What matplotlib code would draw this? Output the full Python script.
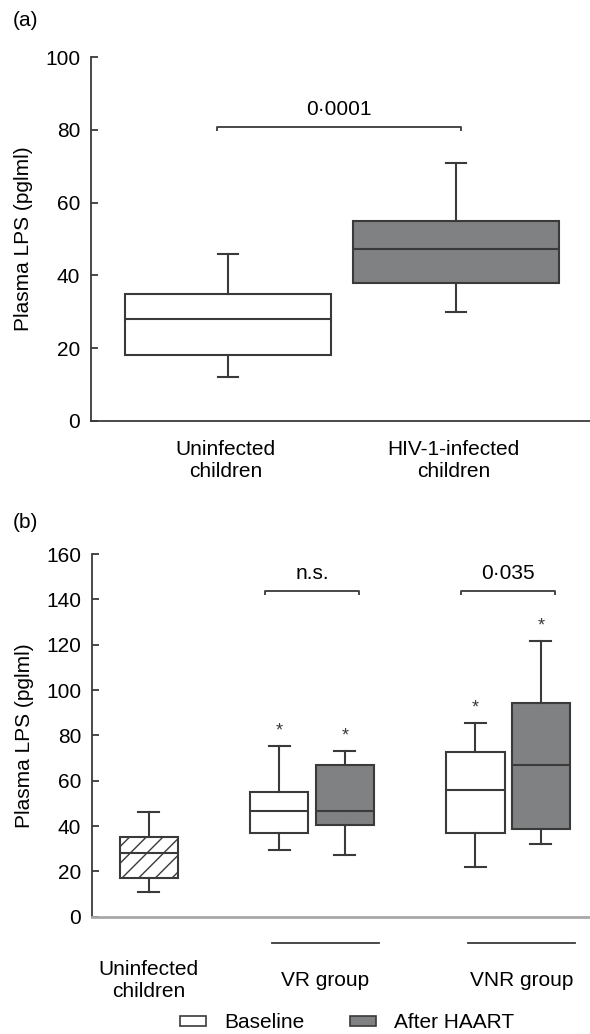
import matplotlib
matplotlib.use('Agg')
import matplotlib.pyplot as plt
from matplotlib.patches import Patch

plt.rcParams['font.family'] = ['Liberation Sans', 'DejaVu Sans']
plt.rcParams['font.size'] = 15
plt.rcParams['hatch.linewidth'] = 1.0
plt.rcParams['hatch.color'] = '#3a3a3a'

EDGE = '#3a3a3a'
GREY = '#7f8183'

# Panel (a): uninfected vs HIV-1-infected children
a_groups = ['Uninfected\nchildren', 'HIV-1-infected\nchildren']
a_whislo = [12, 30]
a_q1 = [18, 38]
a_med = [28, 47.3]
a_q3 = [35, 55]
a_whishi = [46, 71]
a_pvalue = '0·0001'

# Panel (b): uninfected, then VR / VNR groups at baseline and after HAART
b_whislo = [11, 29.4, 27.3, 21.8, 32.1]
b_q1 = [17, 37.1, 40.3, 37.1, 38.8]
b_med = [28, 46.5, 46.5, 56.0, 67.0]
b_q3 = [35, 54.9, 67.0, 72.5, 94.4]
b_whishi = [46, 75.2, 73.0, 85.4, 121.7]
b_starred = [False, True, True, True, True]
b_groups = ['Uninfected\nchildren', 'VR group', 'VNR group']
b_pvalues = ['n.s.', '0·035']
legend_labels = ['Baseline', 'After HAART']


def make_stats(lo, q1, med, q3, hi):
    return [dict(whislo=a, q1=b, med=c, q3=d, whishi=e, fliers=[])
            for a, b, c, d, e in zip(lo, q1, med, q3, hi)]


def draw_boxes(ax, stats, positions, width, capwidth):
    line = dict(color=EDGE, linewidth=1.5)
    return ax.bxp(stats, positions=positions, widths=width,
                  capwidths=capwidth, patch_artist=True, showfliers=False,
                  boxprops=dict(edgecolor=EDGE, linewidth=1.5),
                  medianprops=line, whiskerprops=line, capprops=line)


def bracket(ax, x0, x1, y, drop, text, gap):
    ax.plot([x0, x0, x1, x1], [y - drop, y, y, y - drop],
            color=EDGE, lw=1.3, solid_capstyle='butt')
    ax.text((x0 + x1) / 2, y + gap, text, ha='center', va='baseline')


def style_axis(ax, ymax, step, bottom_color, bottom_lw):
    for side in ('top', 'right'):
        ax.spines[side].set_visible(False)
    ax.spines['left'].set_color(EDGE)
    ax.spines['left'].set_linewidth(1.3)
    ax.spines['bottom'].set_color(bottom_color)
    ax.spines['bottom'].set_linewidth(bottom_lw)
    ax.set_ylim(0, ymax)
    ax.set_yticks(range(0, ymax + 1, step))
    ax.tick_params(axis='y', direction='in', length=5, width=1.3,
                   color=EDGE, pad=7.5)
    ax.set_xticks([])
    ax.set_ylabel('Plasma LPS (pglml)')
    ax.yaxis.set_label_coords(-0.115, 0.5)


fig = plt.figure(figsize=(5.9, 10.34), dpi=100)

# ---- (a) ----
ax_a = fig.add_axes([0.1534, 0.5931, 0.8466, 0.3515])
pos_a = [1, 2]
bp = draw_boxes(ax_a, make_stats(a_whislo, a_q1, a_med, a_q3, a_whishi),
                pos_a, 0.9, 0.088)
for patch, fc in zip(bp['boxes'], ['white', GREY]):
    patch.set_facecolor(fc)
ax_a.set_xlim(0.397, 2.588)
style_axis(ax_a, 100, 20, EDGE, 1.3)
bracket(ax_a, pos_a[0] - 0.05, pos_a[1] + 0.02, 80.8, 1.0, a_pvalue, 3.3)
for x, label in zip(pos_a, a_groups):
    ax_a.text(x - 0.01, -0.11, label, transform=ax_a.get_xaxis_transform(),
              ha='center', va='center', linespacing=1.2)

# ---- (b) ----
ax_b = fig.add_axes([0.1554, 0.1134, 0.8446, 0.3508])
pos_b = [0, 2, 3, 5, 6]
bp = draw_boxes(ax_b, make_stats(b_whislo, b_q1, b_med, b_q3, b_whishi),
                pos_b, 0.89, 0.32)
fills = ['white', 'white', GREY, 'white', GREY]
for patch, fc in zip(bp['boxes'], fills):
    patch.set_facecolor(fc)
bp['boxes'][0].set_hatch('//')
ax_b.set_xlim(-0.873, 6.753)
style_axis(ax_b, 160, 20, '#a8a8a8', 2.0)

for x, hi, star in zip(pos_b, b_whishi, b_starred):
    if star:
        ax_b.annotate('*', (x, hi), xytext=(0, 11), textcoords='offset points',
                      ha='center', va='center', fontsize=13, color=EDGE)

pairs = [(pos_b[1], pos_b[2]), (pos_b[3], pos_b[4])]
for (x0, x1), ptxt in zip(pairs, b_pvalues):
    bracket(ax_b, x0 - 0.22, x1 + 0.22, 143.8, 1.8, ptxt, 5.0)

xt = ax_b.get_xaxis_transform()
ax_b.text(pos_b[0], -0.1745, b_groups[0], transform=xt, ha='center',
          va='center', linespacing=1.2)
for (x0, x1), label in zip(pairs, b_groups[1:]):
    xc = (x0 + x1) / 2 + 0.2
    ax_b.plot([xc - 0.82, xc + 0.82], [-0.072, -0.072], transform=xt,
              color=EDGE, lw=1.3, clip_on=False)
    ax_b.text(xc, -0.1745, label, transform=xt, ha='center', va='center')

handles = [Patch(facecolor='white', edgecolor=EDGE, linewidth=1.2),
           Patch(facecolor=GREY, edgecolor=EDGE, linewidth=1.2)]
fig.legend(handles, legend_labels, loc='center', bbox_to_anchor=(0.588, 0.011),
           ncol=2, frameon=False, handlelength=1.25, handleheight=0.35,
           handletextpad=0.85, columnspacing=2.2, borderpad=0)

fig.text(13 / 590, 1 - 21 / 1034, '(a)', ha='left', va='center', fontsize=15)
fig.text(13 / 590, 1 - 523 / 1034, '(b)', ha='left', va='center', fontsize=15)

fig.savefig('out.png', dpi=100)
plt.close(fig)
